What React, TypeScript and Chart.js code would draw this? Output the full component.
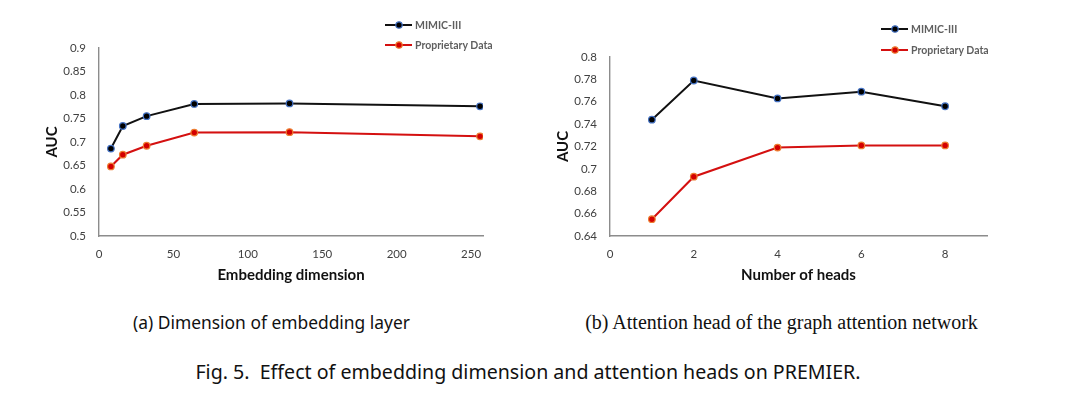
import React, { useEffect, useRef } from "react";
import { Chart, registerables } from "chart.js";

Chart.register(...registerables);

// ---- Data ----
const seriesNames = ["MIMIC-III", "Proprietary Data"];

const embDims = [8, 16, 32, 64, 128, 256];
const embMimic = [0.686, 0.734, 0.755, 0.781, 0.782, 0.776];
const embProp = [0.648, 0.673, 0.692, 0.72, 0.721, 0.712];

const heads = [1, 2, 4, 6, 8];
const headMimic = [0.744, 0.779, 0.763, 0.769, 0.756];
const headProp = [0.655, 0.693, 0.719, 0.721, 0.721];

const leftTitleX = "Embedding dimension";
const rightTitleX = "Number of heads";
const titleY = "AUC";
const captionA = "(a) Dimension of embedding layer";
const captionB = "(b) Attention head of the graph attention network";
const figCaption = "Fig. 5.  Effect of embedding dimension and attention heads on PREMIER.";

const TICK_FONT = { family: "Lato", size: 11.5 };
const TITLE_FONT = { family: "Lato", size: 15, weight: "bold" as const };

function makeDatasets(xs: number[], a: number[], b: number[]) {
  return [
    {
      label: seriesNames[0],
      data: xs.map((x, i) => ({ x, y: a[i] })),
      borderColor: "#111111",
      backgroundColor: "#111111",
      borderWidth: 2,
      pointRadius: 3.3,
      pointBorderWidth: 1.2,
      pointBackgroundColor: "#000000",
      pointBorderColor: "#4472c4",
      tension: 0,
    },
    {
      label: seriesNames[1],
      data: xs.map((x, i) => ({ x, y: b[i] })),
      borderColor: "#d41010",
      backgroundColor: "#d41010",
      borderWidth: 2,
      pointRadius: 3.3,
      pointBorderWidth: 1.2,
      pointBackgroundColor: "#d40000",
      pointBorderColor: "#ed7d31",
      tension: 0,
    },
  ];
}

const fmt = (v: any) => String(parseFloat(Number(v).toFixed(3)));

interface ChartSpec {
  xs: number[];
  a: number[];
  b: number[];
  xMax: number;
  xStep: number;
  yMin: number;
  yMax: number;
  yStep: number;
  yWidth: number;
  padTop: number;
  padRight: number;
  yTitlePad: number;
  xTitle: string;
}

function LineChart({ spec, width, height }: { spec: ChartSpec; width: number; height: number }) {
  const ref = useRef<HTMLCanvasElement | null>(null);
  useEffect(() => {
    if (!ref.current) return;
    const chart = new Chart(ref.current, {
      type: "line",
      data: { datasets: makeDatasets(spec.xs, spec.a, spec.b) as any },
      options: {
        animation: false,
        responsive: false,
        maintainAspectRatio: false,
        layout: { padding: { left: 0, top: spec.padTop, right: spec.padRight, bottom: 0 } },
        plugins: { legend: { display: false }, tooltip: { enabled: false } },
        scales: {
          x: {
            type: "linear",
            min: 0,
            max: spec.xMax,
            grid: { display: false, drawTicks: false },
            border: { display: true, color: "#8c8c8c", width: 1.4 },
            ticks: {
              stepSize: spec.xStep,
              includeBounds: false,
              padding: 11,
              color: "#404040",
              font: TICK_FONT,
              maxRotation: 0,
              callback: (v: any) => fmt(v),
            },
            title: {
              display: true,
              text: spec.xTitle,
              color: "#111111",
              font: TITLE_FONT,
              padding: { top: 0, bottom: 16 },
            },
            afterFit: (s: any) => {
              s.height = 64;
            },
          },
          y: {
            type: "linear",
            min: spec.yMin,
            max: spec.yMax,
            grid: { display: false, drawTicks: false },
            border: { display: true, color: "#8c8c8c", width: 1.4 },
            ticks: {
              stepSize: spec.yStep,
              padding: 13,
              color: "#404040",
              font: TICK_FONT,
              callback: (v: any) => fmt(v),
            },
            title: {
              display: true,
              text: titleY,
              color: "#111111",
              font: TITLE_FONT,
              padding: { top: spec.yTitlePad, bottom: 0 },
            },
            afterFit: (s: any) => {
              s.width = spec.yWidth;
            },
          },
        },
      },
    });
    return () => chart.destroy();
  }, [spec]);
  return <canvas ref={ref} width={width} height={height} style={{ width, height, display: "block" }} />;
}

function Legend({ left, top, gap }: { left: number; top: number; gap: number }) {
  const items = [
    { name: seriesNames[0], line: "#111111", dot: "#000000", ring: "#4472c4" },
    { name: seriesNames[1], line: "#d41010", dot: "#d40000", ring: "#ed7d31" },
  ];
  return (
    <div style={{ position: "absolute", left, top }}>
      {items.map((it, i) => (
        <div
          key={it.name}
          style={{ position: "absolute", left: 0, top: i * gap, height: 14, display: "flex", alignItems: "center", whiteSpace: "nowrap" }}
        >
          <svg width={28} height={14} style={{ display: "block" }}>
            <line x1={0} y1={7} x2={27} y2={7} stroke={it.line} strokeWidth={2} />
            <circle cx={14} cy={7} r={3.2} fill={it.dot} stroke={it.ring} strokeWidth={1.2} />
          </svg>
          <span style={{ fontFamily: "Lato", fontWeight: 700, fontSize: 10.5, color: "#5f5f5f", marginLeft: 2 }}>{it.name}</span>
        </div>
      ))}
    </div>
  );
}

const leftSpec: ChartSpec = {
  xs: embDims,
  a: embMimic,
  b: embProp,
  xMax: 258,
  xStep: 50,
  yMin: 0.5,
  yMax: 0.9,
  yStep: 0.05,
  yWidth: 99,
  padTop: 48,
  padRight: 57,
  yTitlePad: 43,
  xTitle: leftTitleX,
};

const rightSpec: ChartSpec = {
  xs: heads,
  a: headMimic,
  b: headProp,
  xMax: 9,
  xStep: 2,
  yMin: 0.64,
  yMax: 0.8,
  yStep: 0.02,
  yWidth: 70,
  padTop: 57,
  padRight: 89,
  yTitlePad: 14,
  xTitle: rightTitleX,
};

export default function App() {
  return (
    <div style={{ position: "absolute", left: 0, top: 0, width: 1076, height: 393, background: "#fff", overflow: "hidden" }}>
      <div style={{ position: "absolute", left: 0, top: 0 }}>
        <LineChart spec={leftSpec} width={540} height={300} />
      </div>
      <div style={{ position: "absolute", left: 540, top: 0 }}>
        <LineChart spec={rightSpec} width={536} height={300} />
      </div>
      <Legend left={385} top={18} gap={20} />
      <Legend left={881} top={22} gap={21} />
      <div
        style={{
          position: "absolute",
          left: 0,
          width: 543,
          top: 310,
          textAlign: "center",
          fontFamily: "'Noto Sans'",
          fontSize: 17.4,
          color: "#111",
          whiteSpace: "nowrap",
        }}
      >
        {captionA}
      </div>
      <div
        style={{
          position: "absolute",
          left: 540,
          width: 483,
          top: 310.5,
          textAlign: "center",
          fontFamily: "'Liberation Serif'",
          fontSize: 20,
          color: "#111",
          whiteSpace: "nowrap",
        }}
      >
        {captionB}
      </div>
      <div
        style={{
          position: "absolute",
          left: 0,
          width: 1056,
          top: 357.5,
          textAlign: "center",
          fontFamily: "'Noto Sans'",
          fontSize: 19.6,
          color: "#111",
          whiteSpace: "pre",
        }}
      >
        {figCaption}
      </div>
    </div>
  );
}
